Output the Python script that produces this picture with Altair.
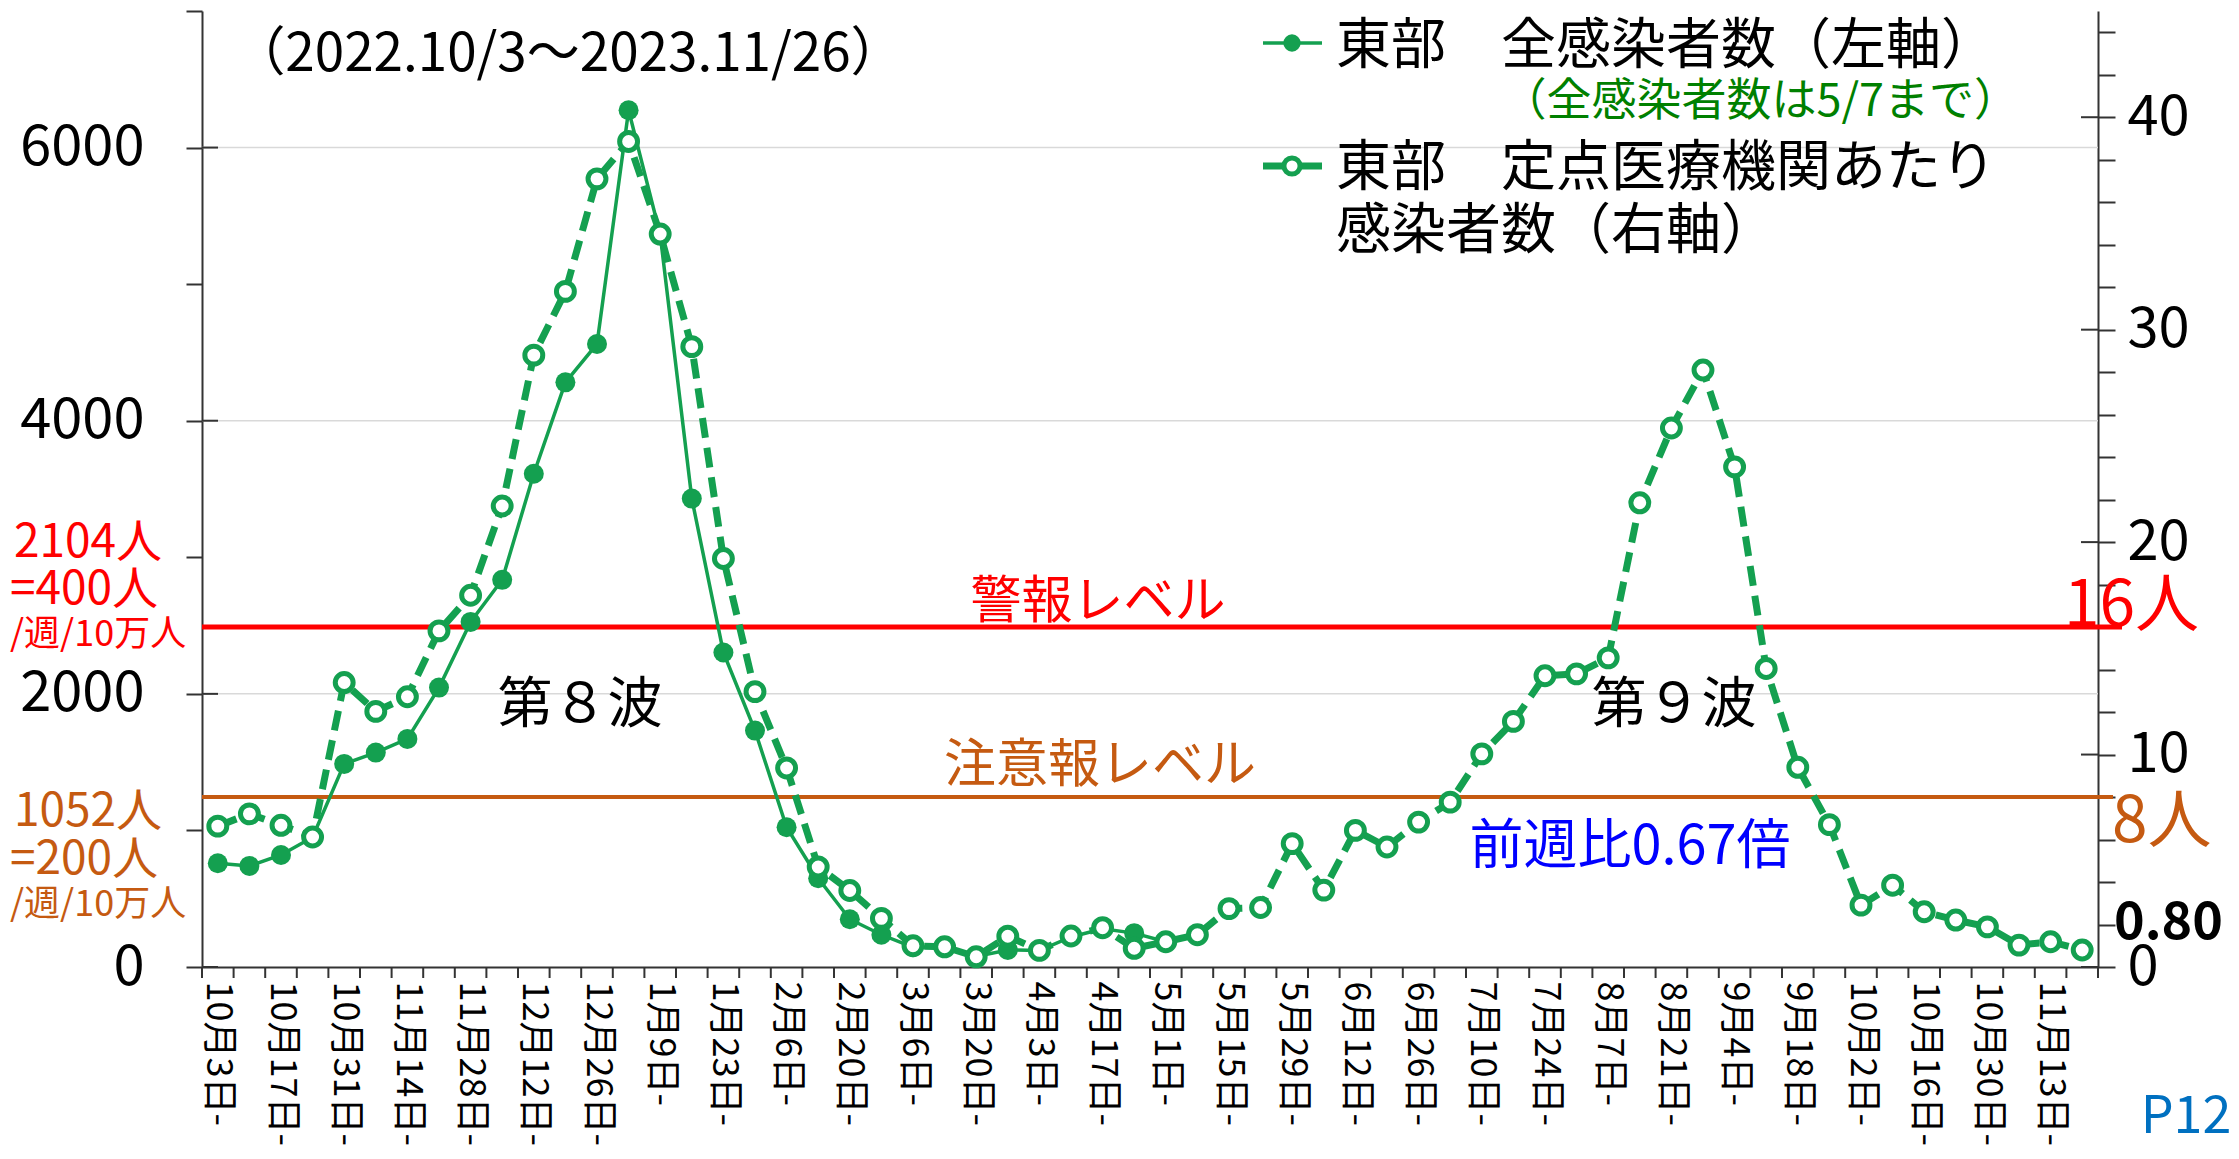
import altair as alt
import pandas as pd

# ---------------- data ----------------
week_index = list(range(60))  # weeks starting 2022-10-03 ... 2023-11-20
tick_labels = ["10月3日", "10月17日", "10月31日", "11月14日", "11月28日", "12月12日", "12月26日",
               "1月9日", "1月23日", "2月6日", "2月20日", "3月6日", "3月20日", "4月3日", "4月17日",
               "5月1日", "5月15日", "5月29日", "6月12日", "6月26日", "7月10日", "7月24日", "8月7日",
               "8月21日", "9月4日", "9月18日", "10月2日", "10月16日", "10月30日", "11月13日"]
# 東部 全感染者数 (left axis) - until 5/7
all_infected = [760, 740, 820, 950, 1487, 1570, 1670, 2046, 2527, 2835,
                3612, 4281, 4562, 6273, 5363, 3430, 2303, 1731, 1023, 650,
                350, 236, 145, 148, 78, 125, 120, 220, 280, 248, 185]
# 東部 定点医療機関あたり感染者数 (right axis)
per_sentinel = [6.63, 7.21, 6.67, 6.12, 13.39, 12.03, 12.72, 15.82, 17.5, 21.7,
                28.8, 31.8, 37.1, 38.86, 34.5, 29.2, 19.23, 12.96, 9.37, 4.71,
                3.6, 2.29, 1.0, 0.95, 0.48, 1.45, 0.78, 1.46, 1.85, 0.88,
                1.19, 1.52, 2.75, 2.8, 5.81, 3.62, 6.43, 5.65, 6.82, 7.76,
                10.03, 11.56, 13.71, 13.8, 14.55, 21.85, 25.37, 28.1, 23.54, 14.05,
                9.4, 6.7, 2.91, 3.85, 2.6, 2.21, 1.89, 1.03, 1.19, 0.80]
left_grid_values = [2000, 4000, 6000]
left_major = [0, 2000, 4000, 6000]
right_major = [0, 10, 20, 30, 40]
alert_level = [16]
warning_level = [8]

# ---------------- style ----------------
W, H = 1896, 956
FONT = "Noto Sans CJK JP"
GREEN = "#14A050"
RED = "#FF0000"
ORANGE = "#C55A11"

df_all = pd.DataFrame({"week": week_index[:len(all_infected)], "value": all_infected})
df_sent = pd.DataFrame({"week": week_index, "value": per_sentinel})
df_bounds = pd.DataFrame({"week": [w - 0.5 for w in week_index] + [week_index[-1] + 0.5]})
one = pd.DataFrame({"k": [0]})

label_array = "[" + ",".join("'" + t + "-'" for t in tick_labels) + "]"
x_scale = alt.Scale(domain=[-0.5, 59.5], nice=False, zero=False)
x_enc = alt.X("week:Q", scale=x_scale,
              axis=alt.Axis(values=list(range(0, 60, 2)),
                            labelExpr=label_array + "[round(datum.value/2)]",
                            labelAngle=90, labelAlign="left", labelBaseline="middle",
                            labelFontSize=36, labelFont=FONT, labelColor="black",
                            labelPadding=14, labelLimit=400, ticks=False, grid=False,
                            title=None, labelOverlap=False, labelFlush=False,
                            domainColor="#333333", domainWidth=2))

left_scale = alt.Scale(domain=[0, 7000], nice=False, zero=True)
right_scale = alt.Scale(domain=[0, 45], nice=False, zero=True)

y_left_axis = alt.Axis(orient="left", values=list(range(0, 7001, 1000)),
                       labelExpr="datum.value % 2000 == 0 ? datum.label : ''",
                       format="d", tickSize=16, tickWidth=2, tickColor="#333333",
                       domainColor="#333333", domainWidth=2, labelFontSize=56,
                       labelFont=FONT, labelColor="black", labelPadding=42,
                       grid=False, title=None)
y_right_axis = alt.Axis(orient="right", values=list(range(0, 45, 2)),
                        labelExpr="datum.value % 10 == 0 ? datum.label : ''",
                        format="d", tickSize=17, tickWidth=2, tickColor="#333333",
                        domainColor="#333333", domainWidth=2, labelFontSize=56,
                        labelFont=FONT, labelColor="black", labelPadding=12,
                        grid=False, title=None)

layers = []

# grid lines (left axis majors)
layers.append(alt.Chart(pd.DataFrame({"v": left_grid_values})).mark_rule(
    color="#D9D9D9", strokeWidth=1.5).encode(
    y=alt.Y("v:Q", scale=left_scale, axis=None), x=alt.value(0), x2=alt.value(W)))

# alert / warning level lines (right axis)
layers.append(alt.Chart(pd.DataFrame({"v": alert_level})).mark_rule(
    color=RED, strokeWidth=5).encode(
    y=alt.Y("v:Q", scale=right_scale, axis=None), x=alt.value(0), x2=alt.value(W + 24)))
layers.append(alt.Chart(pd.DataFrame({"v": warning_level})).mark_rule(
    color=ORANGE, strokeWidth=4).encode(
    y=alt.Y("v:Q", scale=right_scale, axis=None), x=alt.value(0), x2=alt.value(W + 15)))

# all infected (left)
layers.append(alt.Chart(df_all).mark_line(color=GREEN, strokeWidth=3.5).encode(
    x=x_enc, y=alt.Y("value:Q", scale=left_scale, axis=y_left_axis)))
layers.append(alt.Chart(df_all).mark_point(filled=True, shape="circle", size=400,
                                            color=GREEN, opacity=1).encode(
    x=x_enc, y=alt.Y("value:Q", scale=left_scale, axis=None)))

# per sentinel (right)
layers.append(alt.Chart(df_sent).mark_line(color=GREEN, strokeWidth=7,
                                           strokeDash=[20, 10]).encode(
    x=x_enc, y=alt.Y("value:Q", scale=right_scale, axis=y_right_axis)))
layers.append(alt.Chart(df_sent).mark_point(filled=False, shape="circle", size=320,
                                             fill="white", fillOpacity=1, stroke=GREEN,
                                             strokeWidth=5, opacity=1).encode(
    x=x_enc, y=alt.Y("value:Q", scale=right_scale, axis=None)))

# x ticks at week boundaries
layers.append(alt.Chart(df_bounds).mark_rule(color="#333333", strokeWidth=2).encode(
    x=x_enc, y=alt.value(H), y2=alt.value(H + 11)))

# inner halves of the major ticks
layers.append(alt.Chart(pd.DataFrame({"v": left_major})).mark_rule(
    color="#333333", strokeWidth=2).encode(
    y=alt.Y("v:Q", scale=left_scale, axis=None), x=alt.value(0), x2=alt.value(16)))
layers.append(alt.Chart(pd.DataFrame({"v": right_major})).mark_rule(
    color="#333333", strokeWidth=2).encode(
    y=alt.Y("v:Q", scale=right_scale, axis=None), x=alt.value(W - 17), x2=alt.value(W)))


def txt(text, x, y, size, color="black", align="center", weight="normal"):
    return alt.Chart(one).mark_text(text=text, font=FONT, fontSize=size, color=color,
                                    align=align, baseline="middle",
                                    fontWeight=weight).encode(x=alt.value(x), y=alt.value(y))


# legend
layers.append(alt.Chart(one).mark_rule(color=GREEN, strokeWidth=3.5).encode(
    x=alt.value(1061), x2=alt.value(1120), y=alt.value(32)))
layers.append(alt.Chart(one).mark_point(filled=True, shape="circle", size=300, color=GREEN,
                                        opacity=1).encode(x=alt.value(1090), y=alt.value(32)))
layers.append(alt.Chart(one).mark_rule(color=GREEN, strokeWidth=7).encode(
    x=alt.value(1061), x2=alt.value(1120), y=alt.value(155)))
layers.append(alt.Chart(one).mark_point(filled=False, shape="circle", size=260, fill="white",
                                        fillOpacity=1, stroke=GREEN, strokeWidth=5,
                                        opacity=1).encode(x=alt.value(1090), y=alt.value(155)))
layers.append(txt("東部　全感染者数（左軸）", 1134, 35, 55, align="left"))
layers.append(txt("（全感染者数は5/7まで）", 1817, 91, 45, color="#008000", align="right"))
layers.append(txt("東部　定点医療機関あたり", 1134, 157, 55, align="left"))
layers.append(txt("感染者数（右軸）", 1134, 220, 55, align="left"))

# annotations
layers.append(txt("（2022.10/3～2023.11/26）", 366, 44, 53))
layers.append(txt("第８波", 378, 694, 55))
layers.append(txt("第９波", 1472, 694, 55))
layers.append(txt("警報レベル", 896, 592, 51, color=RED))
layers.append(txt("注意報レベル", 898, 755, 52, color=ORANGE))
layers.append(txt("前週比0.67倍", 1428, 837, 54, color="#0000FF"))
layers.append(txt("16人", 1862, 596, 64, color=RED, align="left"))
layers.append(txt("8人", 1910, 812, 64, color=ORANGE, align="left"))
layers.append(txt("0.80", 1912, 912, 52, align="left", weight="bold"))
layers.append(txt("P12", 1984, 1106, 52, color="#0070C0"))
layers.append(txt("2104人", -188, 532, 46, color=RED, align="left"))
layers.append(txt("=400人", -192, 579, 46, color=RED, align="left"))
layers.append(txt("/週/10万人", -192, 624, 36, color=RED, align="left"))
layers.append(txt("1052人", -188, 801, 46, color=ORANGE, align="left"))
layers.append(txt("=200人", -192, 849, 46, color=ORANGE, align="left"))
layers.append(txt("/週/10万人", -192, 894, 36, color=ORANGE, align="left"))

chart = alt.layer(*layers).resolve_scale(y="independent").properties(
    width=W, height=H,
    padding={"left": 194, "top": 3, "right": 133, "bottom": 184},
    autosize=alt.AutoSizeParams(type="none"),
    background="white",
).configure_view(stroke=None)

chart.save("out.html", embed_options={"renderer": "svg", "actions": False})
